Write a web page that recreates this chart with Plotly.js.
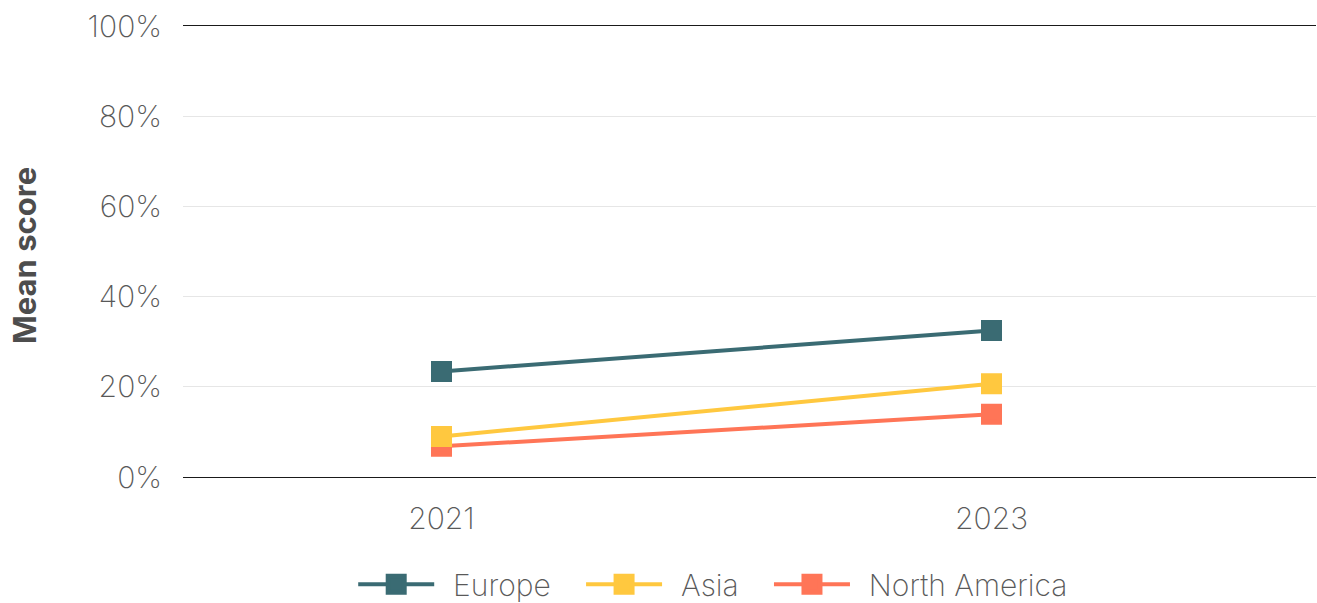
<!DOCTYPE html>
<html>
<head>
<meta charset="utf-8">
<script src="https://cdn.plot.ly/plotly-3.0.1.min.js"></script>
<style>html,body{margin:0;padding:0;background:#fff;}#chart{width:1317px;height:603px;}</style>
</head>
<body>
<div id="chart"></div>
<script>
const years = ['2021', '2023'];
const seriesNames = ['Europe', 'Asia', 'North America'];
const europe = [23.4, 32.5];
const asia = [9.0, 20.7];
const northAmerica = [6.8, 13.9];
const yTicks = [0, 20, 40, 60, 80, 100];
const yTickLabels = ['0%', '20%', '40%', '60%', '80%', '100%'];
const colors = {'Europe': '#3a6b73', 'Asia': '#ffc83f', 'North America': '#ff7557'};

const valuesByName = {'Europe': europe, 'Asia': asia, 'North America': northAmerica};
const fontFam = 'Inter, "Liberation Sans", sans-serif';
const textColor = '#595959';

// draw in reverse so Asia sits over North America, Europe on top
const data = seriesNames.slice().reverse().map(name => ({
  type: 'scatter',
  mode: 'lines+markers',
  name: '\u00a0\u2009' + name + '\u00a0\u00a0\u00a0',
  x: years,
  y: valuesByName[name],
  line: {color: colors[name], width: 4},
  marker: {symbol: 'square', size: 16, color: colors[name], line: {color: colors[name], width: 5}},
  hoverinfo: 'x+y'
}));

const layout = {
  width: 1317,
  height: 603,
  margin: {l: 183, r: 1, t: 26, b: 126, autoexpand: false},
  paper_bgcolor: '#ffffff',
  plot_bgcolor: '#ffffff',
  font: {family: fontFam, color: textColor, size: 30, weight: 250},
  showlegend: true,
  legend: {
    orientation: 'h',
    traceorder: 'reversed',
    x: 0.479, xanchor: 'center',
    y: -0.238, yanchor: 'middle',
    font: {family: fontFam, size: 30, color: textColor, weight: 250},
    itemwidth: 76
  },
  xaxis: {
    type: 'category',
    range: [-0.47, 1.59],
    showgrid: false,
    showline: true,
    mirror: true,
    linecolor: '#1a1a1a',
    linewidth: 1,
    zeroline: false,
    ticks: '',
    ticklabelstandoff: 15,
    tickfont: {family: fontFam, size: 30, color: textColor, weight: 250}
  },
  yaxis: {
    range: [0, 100],
    tickvals: yTicks,
    ticktext: yTickLabels,
    showgrid: true,
    gridcolor: '#e6e6e6',
    gridwidth: 1,
    zeroline: false,
    showline: false,
    ticks: '',
    ticklabelstandoff: 20,
    tickfont: {family: fontFam, size: 30, color: textColor, weight: 250}
  },
  annotations: [{
    text: 'Mean score',
    xref: 'paper', yref: 'paper',
    x: -0.1403, y: 0.49,
    xanchor: 'center', yanchor: 'middle',
    textangle: -90,
    showarrow: false,
    font: {family: fontFam, size: 31, color: '#4d4d4d', weight: 700}
  }]
};

Plotly.newPlot('chart', data, layout, {displayModeBar: false, staticPlot: true});
</script>
</body>
</html>
